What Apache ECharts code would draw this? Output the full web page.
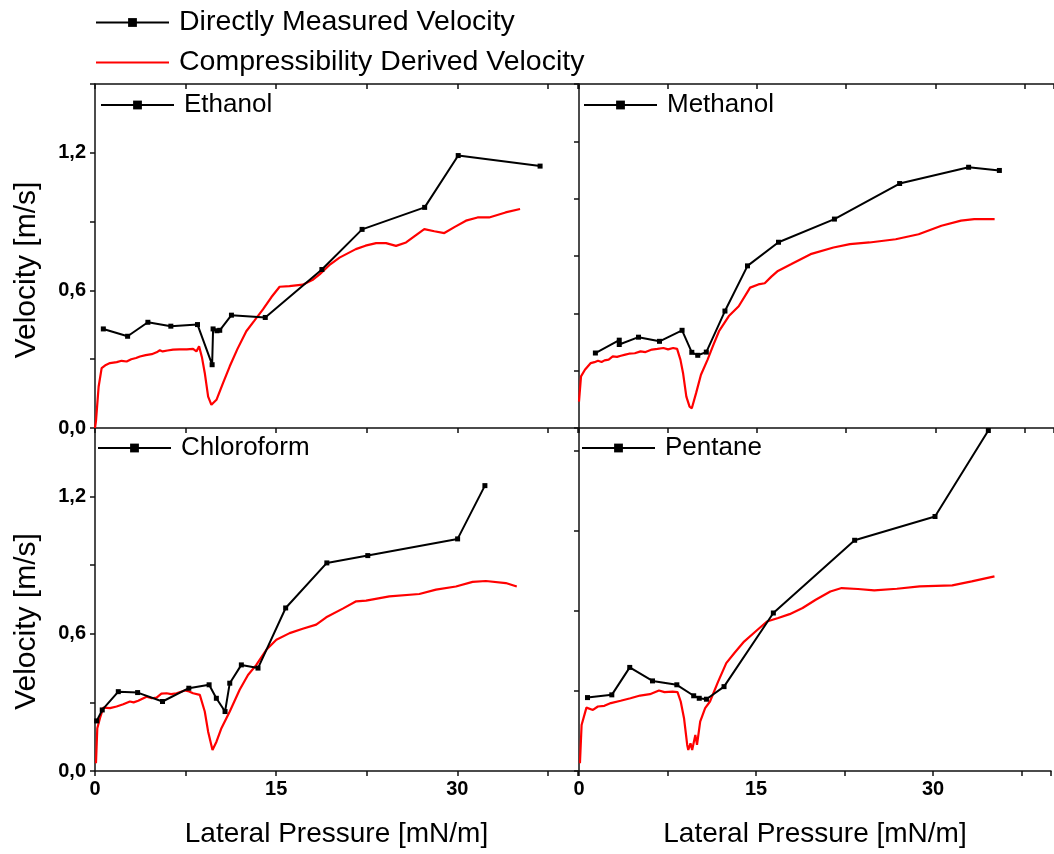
<!DOCTYPE html>
<html><head><meta charset="utf-8">
<script src="https://cdn.jsdelivr.net/npm/echarts@6/dist/echarts.min.js"></script>
<style>html,body{margin:0;padding:0;background:#fff}#c{width:1054px;height:854px}</style>
</head><body><div id="c"></div>
<script>
// ---------------- data ----------------
const panelNames = ['Ethanol', 'Methanol', 'Chloroform', 'Pentane'];
const legendNames = ['Directly Measured Velocity', 'Compressibility Derived Velocity'];
const xAxisName = 'Lateral Pressure [mN/m]';
const yAxisName = 'Velocity [m/s]';

const ethanolMeasured = [[0.69,0.432],[2.70,0.400],[4.38,0.461],[6.28,0.444],[8.49,0.451],[9.70,0.276],[9.78,0.432],[10.10,0.424],[10.33,0.426],[11.30,0.492],[14.1,0.482],[18.79,0.691],[22.12,0.866],[27.3,0.962],[30.08,1.188],[36.86,1.142]];
const ethanolDerived = [[0.0,0.0],[0.08,0.03],[0.3,0.18],[0.55,0.261],[0.9,0.275],[1.24,0.283],[1.8,0.287],[2.2,0.293],[2.62,0.290],[3.0,0.300],[3.4,0.305],[3.72,0.312],[4.2,0.318],[4.7,0.322],[5.1,0.330],[5.37,0.339],[5.6,0.334],[6.0,0.338],[6.47,0.342],[7.0,0.343],[7.6,0.343],[8.12,0.345],[8.4,0.334],[8.62,0.356],[8.85,0.310],[9.09,0.240],[9.37,0.137],[9.64,0.101],[10.06,0.123],[10.6,0.196],[11.16,0.269],[11.8,0.345],[12.53,0.422],[13.2,0.468],[13.91,0.517],[14.6,0.570],[15.29,0.616],[16.1,0.619],[17.2,0.625],[18.0,0.645],[18.6,0.670],[19.4,0.710],[20.25,0.743],[21.6,0.780],[22.4,0.795],[23.28,0.806],[24.1,0.806],[24.93,0.794],[25.76,0.809],[26.5,0.838],[27.27,0.867],[28.1,0.858],[28.93,0.850],[29.8,0.877],[30.72,0.904],[31.68,0.918],[32.64,0.918],[34.0,0.940],[35.2,0.955]];

const methanolMeasured = [[1.38,0.327],[3.39,0.383],[3.39,0.364],[5.01,0.396],[6.78,0.378],[8.68,0.426],[9.5,0.330],[10.0,0.317],[10.72,0.331],[12.29,0.510],[14.19,0.707],[16.8,0.810],[21.51,0.911],[27.0,1.066],[32.81,1.137],[35.4,1.123]];
const methanolDerived = [[0.0,0.115],[0.17,0.225],[0.5,0.254],[0.99,0.283],[1.3,0.287],[1.6,0.293],[1.9,0.288],[2.15,0.295],[2.5,0.298],[2.84,0.312],[3.2,0.310],[3.53,0.315],[3.9,0.320],[4.21,0.324],[4.7,0.326],[5.18,0.334],[5.6,0.331],[6.14,0.342],[6.6,0.345],[7.11,0.349],[7.5,0.343],[7.93,0.349],[8.26,0.345],[8.54,0.298],[8.76,0.240],[9.04,0.137],[9.31,0.093],[9.5,0.086],[9.86,0.152],[10.27,0.232],[10.83,0.298],[11.3,0.360],[11.79,0.422],[12.62,0.488],[13.45,0.531],[14.41,0.612],[15.1,0.626],[15.64,0.631],[16.2,0.660],[16.75,0.685],[17.85,0.714],[19.5,0.758],[21.43,0.787],[22.81,0.802],[24.46,0.809],[26.67,0.823],[28.6,0.845],[30.52,0.882],[32.17,0.904],[33.28,0.911],[35.0,0.911]];

const chloroformMeasured = [[0.14,0.219],[0.6,0.267],[1.93,0.347],[3.53,0.343],[5.59,0.304],[7.77,0.362],[9.45,0.377],[10.05,0.318],[10.77,0.260],[11.16,0.384],[12.12,0.464],[13.5,0.450],[15.79,0.713],[19.2,0.910],[22.59,0.942],[30.03,1.015],[32.29,1.248]];
const chloroformDerived = [[0.08,0.034],[0.19,0.187],[0.41,0.231],[0.69,0.277],[1.24,0.275],[1.79,0.282],[2.34,0.292],[2.89,0.304],[3.2,0.300],[3.58,0.307],[4.27,0.325],[4.7,0.318],[5.1,0.321],[5.5,0.338],[5.93,0.340],[6.3,0.336],[6.75,0.340],[7.44,0.352],[7.8,0.348],[8.12,0.340],[8.68,0.333],[9.09,0.260],[9.37,0.172],[9.73,0.092],[10.06,0.128],[10.47,0.187],[11.16,0.260],[11.98,0.355],[12.67,0.420],[13.36,0.464],[14.19,0.530],[15.02,0.574],[16.12,0.603],[17.2,0.622],[18.32,0.640],[19.15,0.672],[20.52,0.710],[21.63,0.742],[22.45,0.745],[24.38,0.764],[26.86,0.774],[28.24,0.793],[29.89,0.807],[31.27,0.827],[32.37,0.831],[34.02,0.822],[34.93,0.807]];

const pentaneMeasured = [[0.72,0.321],[2.78,0.333],[4.3,0.453],[6.23,0.394],[8.29,0.377],[9.72,0.329],[10.19,0.318],[10.8,0.314],[12.29,0.369],[16.47,0.691],[23.36,1.009],[30.17,1.113],[34.69,1.489]];
const pentaneDerived = [[0.08,0.034],[0.22,0.201],[0.63,0.277],[1.18,0.267],[1.6,0.282],[2.15,0.285],[2.7,0.297],[3.53,0.307],[4.36,0.318],[5.18,0.330],[6.01,0.336],[6.78,0.352],[7.25,0.345],[7.93,0.347],[8.35,0.345],[8.62,0.304],[8.9,0.231],[9.17,0.114],[9.26,0.092],[9.45,0.121],[9.59,0.092],[9.86,0.158],[10.0,0.114],[10.27,0.216],[10.69,0.275],[11.1,0.304],[11.79,0.391],[12.48,0.472],[13.17,0.516],[13.99,0.566],[14.96,0.610],[15.93,0.654],[16.88,0.669],[17.85,0.686],[18.95,0.713],[20.06,0.749],[21.3,0.785],[22.26,0.800],[23.64,0.796],[25.02,0.790],[26.94,0.797],[28.87,0.807],[31.63,0.812],[33.28,0.829],[35.21,0.851]];

const measuredSets = [ethanolMeasured, methanolMeasured, chloroformMeasured, pentaneMeasured];
const derivedSets = [ethanolDerived, methanolDerived, chloroformDerived, pentaneDerived];
const xMin = 0, xMax = 40, xTickStep = 7.5, xLabelStep = 15, xLabelMax = 30;
const yMin = 0, yMax = 1.5;
const yTickSteps = [0.3, 0.25, 0.3, 0.35];
const yLabelStep = 0.6;

// ---------------- layout ----------------
const FONT = 'Liberation Sans';
const gridBoxes = [
  {left: 95, top: 84, width: 483, height: 344},
  {left: 579, top: 84, width: 484, height: 344},
  {left: 95, top: 428, width: 483, height: 343},
  {left: 579, top: 428, width: 484, height: 343}
];
const legendPos = [
  {left: 100, top: 92}, {left: 583, top: 92}, {left: 97, top: 435}, {left: 581, top: 435}
];
const axisLine = {show: true, lineStyle: {color: '#111', width: 1.5}};

const grid = gridBoxes.map(b => Object.assign({containLabel: false}, b));
const xAxis = [];
const yAxis = [];
gridBoxes.forEach((b, i) => {
  const isBottom = i >= 2, isLeft = i % 2 === 0;
  xAxis.push({
    type: 'value', gridIndex: i, min: xMin, max: xMax, interval: xTickStep,
    position: 'bottom', splitLine: {show: false}, axisLine: axisLine,
    axisTick: {show: true, length: 5, lineStyle: {color: '#111', width: 1.5}},
    axisLabel: {show: isBottom, margin: 8, color: '#000', fontFamily: FONT, fontWeight: 'bold', fontSize: 20,
      formatter: v => (Math.abs(v % xLabelStep) < 1e-9 && v <= xLabelMax) ? String(v) : ''},
    name: isBottom ? xAxisName : '', nameLocation: 'middle', nameGap: 49,
    nameTextStyle: {color: '#000', fontFamily: FONT, fontSize: 28}
  });
  const step = yTickSteps[i];
  yAxis.push({
    type: 'value', gridIndex: i, min: yMin, max: yMax, interval: step,
    splitLine: {show: false}, axisLine: axisLine,
    axisTick: {show: true, length: 5, lineStyle: {color: '#111', width: 1.5}},
    axisLabel: {show: isLeft, margin: 9, color: '#000', fontFamily: FONT, fontWeight: 'bold', fontSize: 20,
      formatter: v => {const r = v / yLabelStep; return Math.abs(r - Math.round(r)) < 1e-6 ? v.toFixed(1).replace('.', ',') : '';}},
    name: isLeft ? yAxisName : '', nameLocation: 'middle', nameGap: 53,
    nameTextStyle: {color: '#000', fontFamily: FONT, fontSize: 30, padding: [0, isBottom ? 44 : 28, 0, 0]}
  });
});
// top borders of the upper panels (ticks pointing down)
[0, 1].forEach(i => {
  xAxis.push({
    type: 'value', gridIndex: i, min: xMin, max: xMax, interval: xTickStep, position: 'top',
    splitLine: {show: false}, axisLine: axisLine,
    axisTick: {show: true, inside: true, length: 5, lineStyle: {color: '#111', width: 1.5}},
    axisLabel: {show: false}
  });
});

const series = [];
series.push({
  name: legendNames[0], type: 'line', xAxisIndex: 0, yAxisIndex: 0, data: [],
  symbol: 'rect', symbolSize: 5, itemStyle: {color: '#000'}, lineStyle: {color: '#000', width: 2}
});
panelNames.forEach((p, i) => {
  series.push({
    name: legendNames[1], type: 'line', xAxisIndex: i, yAxisIndex: i, data: derivedSets[i],
    symbol: 'none', lineStyle: {color: '#ff0000', width: 2.2}, itemStyle: {color: '#ff0000'}, z: 2
  });
  series.push({
    name: p, type: 'line', xAxisIndex: i, yAxisIndex: i, data: measuredSets[i],
    symbol: 'rect', symbolSize: 5, itemStyle: {color: '#000'}, lineStyle: {color: '#000', width: 2}, z: 3
  });
});

const legend = [{
  data: [legendNames[0], {name: legendNames[1], itemStyle: {opacity: 0}}],
  orient: 'vertical', left: 95, top: 8, padding: 0, itemWidth: 73, itemHeight: 11, itemGap: 11,
  textStyle: {fontFamily: FONT, fontSize: 28.5, color: '#000', padding: [0, 0, 0, 5]}
}];
panelNames.forEach((p, i) => {
  legend.push({
    data: [p], left: legendPos[i].left, top: legendPos[i].top, padding: 0, itemWidth: 73, itemHeight: 11,
    textStyle: {fontFamily: FONT, fontSize: 26, color: '#000', padding: [0, 0, 0, 5]}
  });
});

const chart = echarts.init(document.getElementById('c'), null, {renderer: 'canvas'});
chart.setOption({
  animation: false, backgroundColor: '#fff',
  grid, xAxis, yAxis, legend, series
});
</script></body></html>
